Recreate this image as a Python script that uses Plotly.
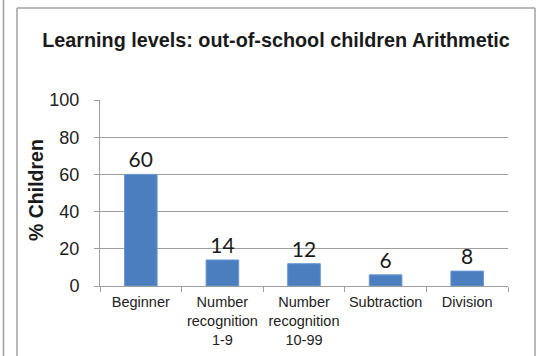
import plotly.graph_objects as go

categories = ["Beginner", "Number<br>recognition<br>1-9", "Number<br>recognition<br>10-99", "Subtraction", "Division"]
values = [60, 14, 12, 6, 8]
y_ticks = [0, 20, 40, 60, 80, 100]

L, R, T, B = 100, 28, 100, 70
W, H = 536, 356
pw, ph = W - L - R, H - T - B

def px(x):
    return (x - L) / pw

def py(y):
    return (H - B - y) / ph

fig = go.Figure()
fig.add_trace(go.Bar(
    x=categories, y=values,
    marker=dict(color="#4a7ebe", line=dict(color="#6b9ad2", width=1)),
    text=[str(v) for v in values], textposition="outside",
    textfont=dict(family="Lato, Open Sans, sans-serif", size=21, color="#1a1a1a"),
    cliponaxis=False,
))

gray = "#9e9e9e"
fig.update_layout(
    width=W, height=H,
    margin=dict(l=L, r=R, t=T, b=B, autoexpand=False),
    paper_bgcolor="white", plot_bgcolor="white",
    bargap=0.6,
    showlegend=False,
    title=dict(text="<b>Learning levels: out-of-school children Arithmetic</b>",
               x=276 / W, xanchor="center", y=1 - 40 / H, yanchor="middle",
               font=dict(family="Liberation Sans, Arial, sans-serif", size=19.8, color="#1a1a1a")),
    xaxis=dict(showline=True, linecolor=gray, linewidth=1, ticks="outside", tickson="boundaries",
               ticklen=5, tickcolor=gray, showgrid=False, tickangle=0, automargin=False,
               ticklabelstandoff=3,
               tickfont=dict(family="Liberation Sans, Arial, sans-serif", size=14.5, color="#222")),
    yaxis=dict(range=[0, 100], tickvals=y_ticks, showline=True, linecolor=gray, linewidth=1,
               ticks="outside", ticklen=5, tickcolor=gray, gridcolor=gray, gridwidth=1,
               zeroline=False, ticklabelstandoff=11, automargin=False,
               tickfont=dict(family="Liberation Sans, Arial, sans-serif", size=18, color="#222")),
    annotations=[dict(text="<b>% Children</b>", textangle=-90, xref="paper", yref="paper",
                      x=px(36), y=py(190), showarrow=False, xanchor="center", yanchor="middle",
                      font=dict(family="Liberation Sans, Arial, sans-serif", size=19.5, color="#1a1a1a"))],
    shapes=[
        dict(type="line", xref="paper", yref="paper", x0=px(17), x1=px(17), y0=py(8), y1=py(400),
             line=dict(color="#a0a0a0", width=1.5)),
        dict(type="line", xref="paper", yref="paper", x0=px(17), x1=px(535), y0=py(8), y1=py(8),
             line=dict(color="#a0a0a0", width=1.5)),
        dict(type="line", xref="paper", yref="paper", x0=px(535), x1=px(535), y0=py(8), y1=py(400),
             line=dict(color="#a0a0a0", width=1.5)),
        dict(type="line", xref="paper", yref="paper", x0=px(3.5), x1=px(3.5), y0=py(-10), y1=py(400),
             line=dict(color="#a0a0a0", width=1.5)),
    ],
)

fig.write_html("out.html", config={"displayModeBar": False},
               post_script="document.body.style.margin='0';document.body.style.overflow='hidden';")
